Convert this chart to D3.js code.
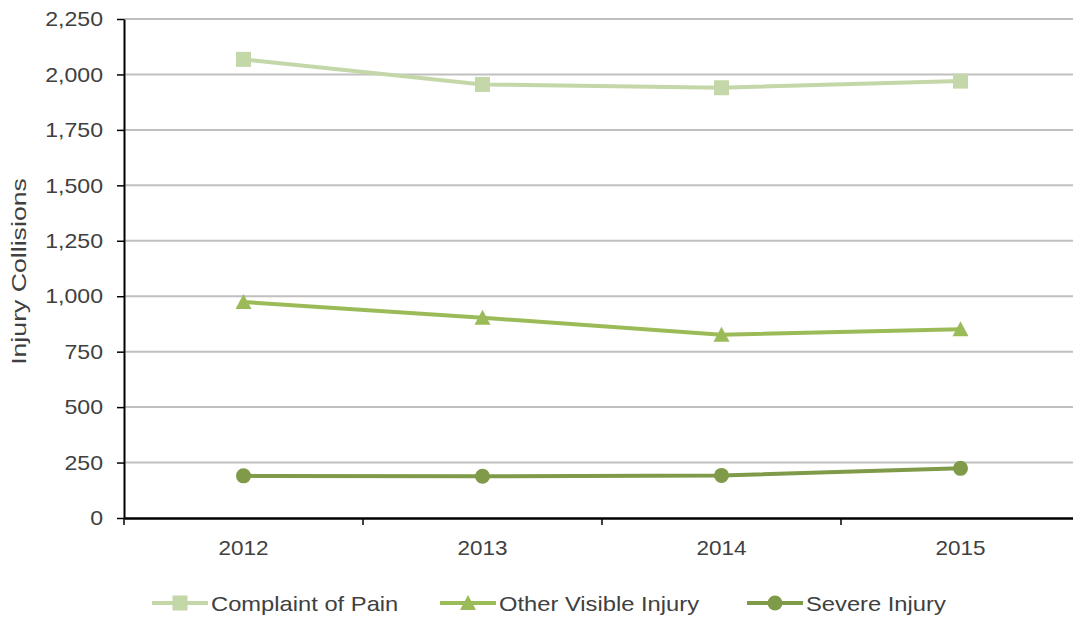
<!DOCTYPE html>
<html>
<head>
<meta charset="utf-8">
<script src="https://cdn.jsdelivr.net/npm/d3@7"></script>
<style>
  body { margin: 0; background: #fff; }
  text { font-family: "Liberation Sans", Arial, sans-serif; fill: #404040; }
</style>
</head>
<body>
<div id="chart"></div>
<script>
var years = ['2012', '2013', '2014', '2015'];
var complaintOfPain = [2068, 1955, 1940, 1970];
var otherVisibleInjury = [974, 903, 826, 851];
var severeInjury = [190, 188, 192, 224];
var yTicks = [0, 250, 500, 750, 1000, 1250, 1500, 1750, 2000, 2250];

var width = 1073;
var height = 619;
var margin = { top: 19, left: 124, bottom: 101 };
var plotRight = 1080;

var series = [
    { name: 'Complaint of Pain', values: complaintOfPain, color: '#c4d7a9', marker: 'square' },
    { name: 'Other Visible Injury', values: otherVisibleInjury, color: '#9bbb59', marker: 'triangle' },
    { name: 'Severe Injury', values: severeInjury, color: '#7f9a48', marker: 'circle' }
];

var svg = d3.select('#chart')
    .append('svg')
        .attr('width', width)
        .attr('height', height);

// the original text is drawn a bit wider than Arial
function widen(sel, factor) {
    sel.each(function() {
        var len = this.getComputedTextLength();
        d3.select(this)
            .attr('textLength', len * factor)
            .attr('lengthAdjust', 'spacingAndGlyphs');
    });
}

var x = d3.scaleBand()
    .domain(years)
    .range([margin.left, plotRight]);

var y = d3.scaleLinear()
    .domain([0, 2250])
    .range([height - margin.bottom, margin.top]);

// gridlines
svg.append('g')
    .selectAll('line')
    .data(yTicks.filter(d => d > 0))
    .enter()
    .append('line')
        .attr('x1', margin.left)
        .attr('x2', plotRight)
        .attr('y1', d => y(d))
        .attr('y2', d => y(d))
        .attr('stroke', '#c0c0c0')
        .attr('stroke-width', 2);

// y axis
var yAxis = svg.append('g')
    .attr('transform', 'translate(' + margin.left + ',0)')
    .call(d3.axisLeft(y).tickValues(yTicks).tickSize(7).tickSizeOuter(0).tickPadding(14).tickFormat(d3.format(',')));
yAxis.select('.domain').attr('stroke', '#000').attr('stroke-width', 2);
yAxis.selectAll('.tick line').attr('stroke', '#000').attr('stroke-width', 1.5);
yAxis.selectAll('text').style('font-size', '21px').attr('fill', '#404040').call(widen, 1.1);

// x axis
var xAxis = svg.append('g')
    .attr('transform', 'translate(0,' + y(0) + ')')
    .call(d3.axisBottom(x).tickSize(0).tickPadding(22));
xAxis.select('.domain').attr('stroke', '#000').attr('stroke-width', 2.5);
xAxis.selectAll('text').style('font-size', '21px').attr('fill', '#404040').call(widen, 1.07);

// x boundary ticks between categories
svg.append('g')
    .selectAll('line')
    .data(years)
    .enter()
    .append('line')
        .attr('x1', d => x(d))
        .attr('x2', d => x(d))
        .attr('y1', y(0))
        .attr('y2', y(0) + 7)
        .attr('stroke', '#000')
        .attr('stroke-width', 1.5);

// y axis title
svg.append('text')
    .attr('transform', 'translate(26,' + ((margin.top + y(0)) / 2 + 3) + ') rotate(-90)')
    .attr('text-anchor', 'middle')
    .style('font-size', '21px')
    .text('Injury Collisions')
    .call(widen, 1.27);

function drawMarker(g, type, color) {
    if (type === 'square') {
        g.append('rect')
            .attr('x', -7.5).attr('y', -7.5)
            .attr('width', 15).attr('height', 15)
            .attr('fill', color);
    } else if (type === 'triangle') {
        g.append('path')
            .attr('d', 'M0,-8L8,7L-8,7Z')
            .attr('fill', color);
    } else {
        g.append('circle')
            .attr('r', 7.5)
            .attr('fill', color);
    }
}

var line = d3.line()
    .x((d, i) => x(years[i]) + x.bandwidth() / 2)
    .y(d => y(d));

series.forEach(function(s) {
    svg.append('path')
        .attr('d', line(s.values))
        .attr('fill', 'none')
        .attr('stroke', s.color)
        .attr('stroke-width', 4);

    s.values.forEach(function(v, i) {
        var g = svg.append('g')
            .attr('transform', 'translate(' + (x(years[i]) + x.bandwidth() / 2) + ',' + y(v) + ')');
        drawMarker(g, s.marker, s.color);
    });
});

// legend
var legendX = [152, 440, 747];
var legendY = 603;
series.forEach(function(s, i) {
    var g = svg.append('g')
        .attr('transform', 'translate(' + legendX[i] + ',' + legendY + ')');
    g.append('line')
        .attr('x1', 0).attr('x2', 56)
        .attr('y1', 0).attr('y2', 0)
        .attr('stroke', s.color)
        .attr('stroke-width', 4);
    var m = g.append('g').attr('transform', 'translate(28,0)');
    drawMarker(m, s.marker, s.color);
    g.append('text')
        .attr('x', 59)
        .attr('y', 8)
        .style('font-size', '21px')
        .text(s.name)
        .call(widen, 1.13);
});
</script>
</body>
</html>
